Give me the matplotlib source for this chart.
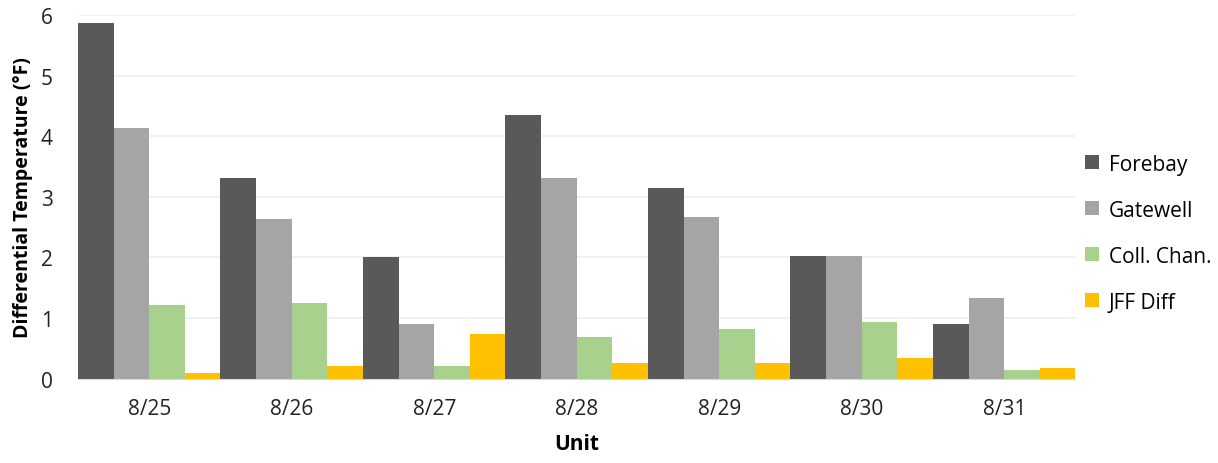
import numpy as np
import matplotlib.pyplot as plt

plt.rcParams['font.family'] = ['Open Sans', 'DejaVu Sans']

# data
dates = ['8/25', '8/26', '8/27', '8/28', '8/29', '8/30', '8/31']
forebay = [5.87, 3.31, 2.01, 4.35, 3.14, 2.02, 0.90]
gatewell = [4.13, 2.63, 0.90, 3.31, 2.66, 2.02, 1.33]
coll_chan = [1.21, 1.25, 0.21, 0.68, 0.82, 0.94, 0.14]
jff_diff = [0.09, 0.21, 0.73, 0.26, 0.26, 0.34, 0.17]

series = [('Forebay', forebay, '#595959'),
          ('Gatewell', gatewell, '#A5A5A5'),
          ('Coll. Chan.', coll_chan, '#A9D18E'),
          ('JFF Diff', jff_diff, '#FFC000')]

fig = plt.figure(figsize=(12.18, 4.64), dpi=100)
ax = fig.add_axes([0.064, 0.182, 0.819, 0.7835])

x = np.arange(len(dates))
w = 0.25
for i, (name, vals, col) in enumerate(series):
    ax.bar(x + (i - 1.5) * w, vals, w, color=col, label=name, zorder=2)

ax.set_xlim(-0.5, len(dates) - 0.5)
ax.set_ylim(0, 6)
ax.set_yticks(range(0, 7))
ax.set_xticks(x)
ax.set_xticklabels(dates)
ax.grid(axis='y', color='#EFEFEF', lw=1.2, zorder=0)
for s in ['top', 'right', 'left']:
    ax.spines[s].set_visible(False)
ax.spines['bottom'].set_color('#D9D9D9')
ax.tick_params(axis='both', length=0, labelsize=15, colors='#222222')
ax.tick_params(axis='x', pad=14)
ax.tick_params(axis='y', pad=18)

ax.set_ylabel('Differential Temperature (°F)', fontsize=14, fontweight='bold', labelpad=6)
ax.set_xlabel('Unit', fontsize=15, fontweight='bold', labelpad=10)

ax.legend(loc='center left', bbox_to_anchor=(0.995, 0.40), frameon=False,
          fontsize=15, handlelength=0.65, handleheight=0.65, labelspacing=1.2,
          handletextpad=0.5, borderaxespad=0.3)

fig.savefig('out.png', dpi=100)
